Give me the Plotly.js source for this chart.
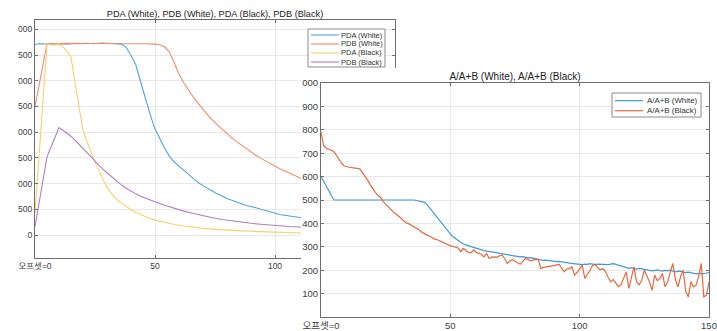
<!DOCTYPE html>
<html>
<head>
<meta charset="utf-8">
<script src="https://cdn.plot.ly/plotly-3.0.1.min.js"></script>
<style>
  html, body { margin: 0; padding: 0; background: #ffffff; }
  body { width: 717px; height: 331px; position: relative; overflow: hidden; }
  #leftPlot { position: absolute; left: 0; top: 0; width: 400px; height: 331px; }
  #rightPlot { position: absolute; left: 301px; top: 68px; width: 416px; height: 263px; background: #ffffff; }
</style>
</head>
<body>
<div id="leftPlot"></div>
<div id="rightPlot"></div>
<script>
// ---------------- DATA ----------------
// Left chart: PDA / PDB (White / Black)
const pdaWhiteX = [0,2,4,6,8,10,12,14,16,18,20,22,24,26,28,30,32,34,36,38,40,42,44,46,48,50,52,54,56,58,60,62,64,66,68,70,72,74,76,78,80,82,84,86,88,90,92,94,96,98,100,102,104,106,108,110,112,114,116];
const pdaWhiteY = [3710,3720,3715,3725,3718,3712,3722,3716,3728,3720,3724,3730,3718,3725,3733,3724,3730,3722,3712,3650,3490,3310,2980,2650,2340,2060,1860,1690,1530,1420,1340,1260,1180,1100,1020,960,900,850,800,750,710,675,640,605,575,555,530,505,480,450,420,400,385,370,355,338,322,312,300];

const pdbWhiteX = [0,5,8,10,14,18,22,26,30,34,38,42,46,50,52,54,56,58,60,62,64,66,68,70,72,74,76,78,80,82,84,86,88,90,92,94,96,98,100,102,104,106,108,110,112,114,116];
const pdbWhiteY = [2500,3720,3716,3722,3726,3718,3724,3720,3728,3720,3724,3720,3718,3712,3700,3660,3560,3350,3130,2960,2810,2680,2560,2440,2330,2230,2140,2060,1970,1890,1815,1745,1680,1620,1550,1495,1440,1385,1335,1290,1250,1200,1160,1120,1080,1045,1010];

const pdaBlackX = [0,5,7,8,10,12,14,15,17,19,20,22,24,26,28,30,32,34,36,38,40,42,44,46,48,50,54,58,62,66,70,74,78,82,86,90,94,98,102,106,110,114,116];
const pdaBlackY = [430,3720,3700,3690,3720,3640,3530,3465,2860,2260,2040,1780,1520,1320,1110,920,800,695,620,550,490,440,395,355,320,290,240,205,175,150,130,115,100,90,80,72,65,58,50,45,38,32,30];

const pdbBlackX = [0,5,10,12,14,16,18,20,22,24,26,28,30,32,34,36,38,40,42,44,46,48,50,54,58,62,66,70,74,78,82,86,90,94,98,102,106,110,114,116];
const pdbBlackY = [160,1520,2090,2030,1960,1880,1780,1680,1580,1470,1380,1290,1210,1130,1050,975,910,850,800,755,715,680,645,580,520,465,420,375,335,300,272,250,228,210,192,178,165,155,145,140];

const leftNames = ['PDA (White)', 'PDB (White)', 'PDA (Black)', 'PDB (Black)'];
const leftTitle = 'PDA (White), PDB (White), PDA (Black), PDB (Black)';
const leftXTicks = [0, 50, 100, 150];
const leftXTickText = ['오프셋=0', '50', '100', '150'];
const leftYTicks = [0, 500, 1000, 1500, 2000, 2500, 3000, 3500, 4000];
// labels as they appear in the (left-cropped) reference
const leftYTickText = ['0', '500', '000', '500', '000', '500', '000', '500', '000'];

// Right chart: A/A+B (White / Black)
const aabWhiteX = [0,5,36,37,38,39,40,41,42,43,44,45,46,47,48,49,50,51,52,53,54,55,56,57,58,59,60,61,62,63,64,65,66,67,68,69,70,71,72,73,74,75,76,77,78,79,80,81,82,83,84,85,86,87,88,89,90,91,92,93,94,95,96,97,98,99,100,101,102,103,104,105,106,107,108,109,110,111,112,113,114,115,116,117,118,119,120,121,122,123,124,125,126,127,128,129,130,131,132,133,134,135,136,137,138,139,140,141,142,143,144,145,146,147,148,149,150];
const aabWhiteY = [600,500,500,498,496,493,490,480,466,450,435,422,408,393,379,366,355,343,335,327,319,312,308,304,300,297,294,291,287,284,283,280,278,276,274,271,270,267,265,265,262,261,259,257,258,255,253,254,251,250,247,243,242,243,241,240,238,237,238,235,233,232,230,229,227,225,226,224,226,225,228,226,224,226,225,223,222,224,226,228,225,222,218,214,210,208,211,207,205,208,205,203,200,199,197,199,201,198,196,199,197,200,196,193,195,196,192,190,192,189,187,184,186,184,185,188,190];

const aabBlackX = Array.from({length: 151}, (_, i) => i);
const aabBlackY = [790,733,722,716,712,707,690,672,657,645,
  641,640,638,637,636,633,617,602,585,566,
  548,533,520,512,494,482,470,458,448,440,
  432,422,410,402,398,392,385,380,372,362,
  354,350,345,338,333,330,325,318,312,307,
  304,302,300,295,279,293,284,276,275,287,
  276,272,268,257,272,250,256,257,255,262,
  265,250,229,238,246,238,230,225,238,250,
  246,240,243,246,245,207,212,214,215,216,
  217,222,226,210,193,205,207,214,179,190,
  205,222,165,180,200,220,225,210,202,207,
  193,170,150,160,143,130,138,165,193,122,
  165,214,150,138,157,200,175,150,114,179,
  155,165,186,129,150,193,229,160,129,172,
  200,110,86,150,129,136,175,229,86,93,
  150];

const rightNames = ['A/A+B (White)', 'A/A+B (Black)'];
const rightTitle = 'A/A+B (White), A/A+B (Black)';
const rightXTicks = [0, 50, 100, 150];
const rightXTickText = ['오프셋=0', '50', '100', '150'];
const rightYTicks = [100, 200, 300, 400, 500, 600, 700, 800, 900, 1000];
const rightYTickText = ['100', '200', '300', '400', '500', '600', '700', '800', '900', '000'];

// ---------------- STYLE ----------------
const FONT = '"Liberation Sans", Arial, "Noto Sans CJK KR", sans-serif';
const leftColors = ['#4da3de', '#ec8e6c', '#f7cf6e', '#b07cc6'];
const rightColors = ['#3f9ad8', '#e6683d'];
const axisColor = '#6e6e6e';
const gridColor = '#e8e8e8';

function axis(range, vals, text, size) {
  return {range: range, tickvals: vals, ticktext: text, tickmode: 'array',
          ticks: 'inside', ticklen: 3, tickcolor: axisColor,
          showline: true, linecolor: axisColor, linewidth: 1, mirror: 'ticks',
          showgrid: true, gridcolor: gridColor, zeroline: false,
          tickfont: {size: size, color: '#404040', family: FONT}};
}

// ---------------- LEFT CHART ----------------
// page-pixel -> paper helpers for the left plot (plot area x 35..395, y 20..258)
const LX = (px) => (px - 35) / 360;
const LY = (py) => (258 - py) / 238;

const leftTraces = [
  [pdaWhiteX, pdaWhiteY], [pdbWhiteX, pdbWhiteY], [pdaBlackX, pdaBlackY], [pdbBlackX, pdbBlackY]
].map((d, i) => ({
  type: 'scatter', mode: 'lines', x: d[0], y: d[1], name: leftNames[i],
  line: {color: leftColors[i], width: 1.1}, hoverinfo: 'skip'
}));

const leftShapes = [
  {type: 'rect', xref: 'paper', yref: 'paper', x0: LX(308), x1: LX(385), y0: LY(67), y1: LY(29),
   line: {color: '#8a8a8a', width: 1}, fillcolor: '#ffffff', layer: 'above'}
];
const leftAnn = [];
leftNames.forEach((n, i) => {
  const y = 35 + i * 9;
  leftShapes.push({type: 'line', xref: 'paper', yref: 'paper', x0: LX(311), x1: LX(339), y0: LY(y), y1: LY(y),
    line: {color: leftColors[i], width: 1.1}, layer: 'above'});
  leftAnn.push({xref: 'paper', yref: 'paper', x: LX(340), y: LY(y), text: n, showarrow: false,
    xanchor: 'left', yanchor: 'middle', font: {size: 7.5, color: '#333333', family: FONT}, borderpad: 0});
});

const leftLayout = {
  width: 400, height: 331,
  margin: {l: 35, r: 5, t: 20, b: 73, pad: 0},
  paper_bgcolor: 'rgba(0,0,0,0)', plot_bgcolor: '#ffffff',
  showlegend: false,
  font: {family: FONT, size: 8.5, color: '#404040'},
  title: {text: leftTitle, font: {size: 9.2, color: '#222222', family: FONT},
          x: 0.5, xref: 'paper', xanchor: 'center', y: 1 - 14 / 331, yref: 'container', yanchor: 'middle'},
  xaxis: axis([0, 150], leftXTicks, leftXTickText, 8.5),
  yaxis: axis([-447, 4181], leftYTicks, leftYTickText, 8.5),
  shapes: leftShapes,
  annotations: leftAnn
};

Plotly.newPlot('leftPlot', leftTraces, leftLayout, {staticPlot: true, displayModeBar: false});

// ---------------- RIGHT CHART ----------------
// page-pixel -> paper helpers (plot area x 321..709, y 83..317)
const RX = (px) => (px - 321) / 388;
const RY = (py) => (317 - py) / 234;

const rightTraces = [
  [aabWhiteX, aabWhiteY], [aabBlackX, aabBlackY]
].map((d, i) => ({
  type: 'scatter', mode: 'lines', x: d[0], y: d[1], name: rightNames[i],
  line: {color: rightColors[i], width: 1.2}, hoverinfo: 'skip'
}));

const rightShapes = [
  {type: 'rect', xref: 'paper', yref: 'paper', x0: RX(612), x1: RX(701), y0: RY(117), y1: RY(93),
   line: {color: '#8a8a8a', width: 1}, fillcolor: '#ffffff', layer: 'above'}
];
const rightAnn = [];
rightNames.forEach((n, i) => {
  const y = 100.7 + i * 10;
  rightShapes.push({type: 'line', xref: 'paper', yref: 'paper', x0: RX(615), x1: RX(643), y0: RY(y), y1: RY(y),
    line: {color: rightColors[i], width: 1.2}, layer: 'above'});
  rightAnn.push({xref: 'paper', yref: 'paper', x: RX(646), y: RY(y), text: n, showarrow: false,
    xanchor: 'left', yanchor: 'middle', font: {size: 7.9, color: '#333333', family: FONT}, borderpad: 0});
});

const rightLayout = {
  width: 416, height: 263,
  margin: {l: 20, r: 8, t: 15, b: 14, pad: 0},
  paper_bgcolor: '#ffffff', plot_bgcolor: '#ffffff',
  showlegend: false,
  font: {family: FONT, size: 9.5, color: '#404040'},
  title: {text: rightTitle, font: {size: 10, color: '#222222', family: FONT},
          x: 0.5, xref: 'paper', xanchor: 'center', y: 1 - 8.7 / 263, yref: 'container', yanchor: 'middle'},
  xaxis: axis([0, 150], rightXTicks, rightXTickText, 9.5),
  yaxis: axis([0, 1000], rightYTicks, rightYTickText, 9.5),
  shapes: rightShapes,
  annotations: rightAnn
};

Plotly.newPlot('rightPlot', rightTraces, rightLayout, {staticPlot: true, displayModeBar: false});
</script>
</body>
</html>
